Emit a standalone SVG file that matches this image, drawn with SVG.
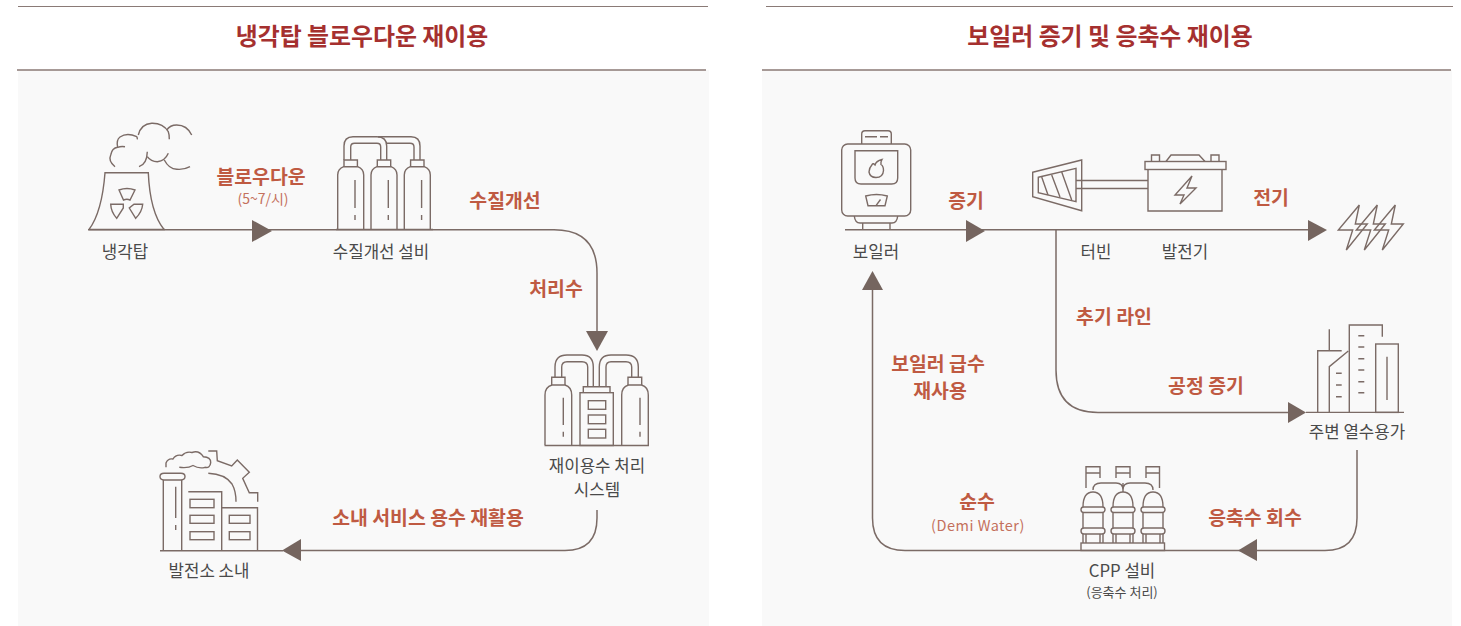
<svg xmlns="http://www.w3.org/2000/svg" width="1461" height="626" viewBox="0 0 1461 626">
<style>
text{font-family:"Noto Sans CJK KR","Noto Sans",sans-serif}
.t{font-size:23.900px;font-weight:700;fill:#a5302f;text-anchor:middle}
.l{font-size:19.400px;font-weight:700;fill:#bf5a42;text-anchor:middle}
.s{font-size:14px;fill:#c4705c;text-anchor:middle}
.n{font-size:16.800px;fill:#4a4a4a;text-anchor:middle}
.n2{font-size:13px;fill:#4a4a4a;text-anchor:middle}
.i{fill:none;stroke:#7b6b66;stroke-width:1.4}
.c{fill:none;stroke:#7b6b66;stroke-width:1.5}
.h{fill:none;stroke:#8a7a76;stroke-width:1}
.hb{fill:none;stroke:#8a7a76;stroke-width:1.3}
.a{fill:#75655f}
</style>
<defs>
<g id="tank"><path d="M0 69.500V15Q0 9 6 6.700H20Q26 9 26 15V69.500"/><path d="M6.300 6.700V0H19.700V6.700"/><path d="M17.300 20V48M17.300 55V60"/></g>
<g id="col"><path d="M-10 -6Q-10 -21 0 -21Q10 -21 10 -6"/><rect x="-12" y="-6" width="24" height="5.500" rx="2.700"/><rect x="-12" y="15" width="24" height="6" rx="3"/><path d="M-10 -0.500V15M10 -0.500V15M-10 21V30M10 21V30M-7 21V30M7 21V30"/></g>
<g id="bolt"><path d="M21 0L0 25H14.400L8 45L29 19H17Z"/></g>
</defs>
<rect x="18" y="70" width="691" height="556" fill="#f9f9f9"/>
<rect x="762" y="70" width="690" height="556" fill="#f9f9f9"/>
<path class="h" d="M18 6.500H708M766 6.500H1453"/>
<path class="hb" d="M17 70H706M762 70H1451"/>
<text class="t" x="362" y="45">냉각탑 블로우다운 재이용</text>
<text class="t" x="1110" y="45">보일러 증기 및 응축수 재이용</text>

<g id="connectors">
<path class="c" d="M88 229.800H554Q597 229.800 597 273V335"/>
<path class="c" d="M597 510V518Q597 550.500 565 550.500H296"/>
<path class="c" d="M845 229.800H1312"/>
<path class="c" d="M1056 230V370Q1056 412.500 1098 412.500H1292"/>
<path class="c" d="M1357 450V518Q1357 550.500 1325 550.500H905Q872.500 550.500 872.500 518V285"/>
<path class="a" d="M252 220L272 231L252 242Z"/>
<path class="a" d="M586 331H608L597 351Z"/>
<path class="a" d="M301 539V561L282 550.500Z"/>
<path class="a" d="M966 220L985 231L966 242Z"/>
<path class="a" d="M1308 220L1327 230L1308 241Z"/>
<path class="a" d="M1288 402L1306 412.500L1288 423Z"/>
<path class="a" d="M1257 539V561L1238 550.500Z"/>
<path class="a" d="M862 290H883L872.500 271Z"/>
</g>

<g id="n-tower" class="i">
<path d="M89 229.500Q102 212 105 172.700H148.300Q150 212 164 229.500"/>
<path d="M89 229.500H165"/>
<path d="M119 190Q127 187 135 190L130 200Q127 198.500 123.500 200Z"/>
<path d="M110.700 204.300H123.300L123.300 208L116.700 218.300Q111 212 110.700 204.300Z"/>
<path d="M142.700 204.300H134L129.300 208L135.700 218.300Q142 212 142.700 204.300Z"/>
<path d="M115 166.700Q108 161 110.700 155Q112 148 117.700 147.300Q121 146 125 146.700"/>
<path d="M117.700 147.300Q116 140 120 137Q127 132 136.700 136.700Q137.500 138 137.300 139.300"/>
<path d="M138.300 135Q141 124 151.700 123.300Q163 123 168.300 131.700Q169.500 135 169.300 139.300"/>
<path d="M166.700 130Q170 125 176.700 125Q187 125 191.700 135"/>
<path d="M139 166.700Q147 164 147.300 151.700"/>
<path d="M147.300 156.700Q151 161.700 157.300 161.700Q165 161 168.300 153.300"/>
<path d="M164.300 160Q169 169 176.700 169.300Q184 170 190 166.700"/>
</g>
<text class="n" x="125" y="258">냉각탑</text>

<g id="n-softener" class="i">
<path d="M336 229.500H433"/>
<use href="#tank" x="337.700" y="160"/>
<use href="#tank" x="371" y="160"/>
<use href="#tank" x="404.300" y="160"/>
<path d="M344 160V146Q344 136.700 353 136.700H377Q386.700 136.700 386.700 146V160"/>
<path d="M350.700 160V147Q350.700 143.300 354.500 143.300H377Q380.700 143.300 380.700 147V160"/>
<path d="M378 136.700H411Q420 136.700 420 146V160"/>
<path d="M386.700 143.300H410Q414 143.300 414 147V160"/>
</g>
<text class="n" x="381" y="258">수질개선 설비</text>

<g id="n-reuse" class="i">
<path d="M544.500 445.500H649"/>
<path d="M545 445V395Q545 387 552 385H565Q571.700 387 571.700 395V445"/>
<path d="M621.700 445V395Q621.700 387 628.500 385H641.500Q648.300 387 648.300 395V445"/>
<path d="M551.700 385V377.300H565V385M628 385V377.300H641.700V385"/>
<path d="M563.300 397.700V425M563.300 431.700V436.700M640 397.700V425M640 431.700V436.700"/>
<rect x="580" y="392.700" width="33.300" height="52.800"/>
<path d="M583.300 392.700V386.700H610V392.700"/>
<rect x="588.300" y="400.700" width="17.400" height="8.600"/><rect x="588.300" y="415" width="17.400" height="8.700"/><rect x="588.300" y="429.300" width="17.400" height="8.700"/>
<path d="M555 377V367Q555 355 567 355H582Q593.300 355 593.300 367V386.700"/>
<path d="M561.700 377V367Q561.700 361.700 567 361.700H582Q587.700 361.700 587.700 367V386.700"/>
<path d="M599.300 386.700V367Q599.300 355 611 355H626Q638.300 355 638.300 367V377"/>
<path d="M606 386.700V367Q606 361.700 611 361.700H626Q631.700 361.700 631.700 367V377"/>
</g>
<text class="n" x="597" y="472">재이용수 처리</text>
<text class="n" x="597" y="496">시스템</text>

<g id="n-plant" class="i">
<path d="M160 550.700H283"/>
<path d="M163.300 550V480M181.700 550V480"/>
<path d="M164 473.300H181Q185 473.300 185 476.600Q185 480 181 480H164Q160 480 160 476.600Q160 473.300 164 473.300Z"/>
<path d="M175.700 486.700V518M175.700 525V530"/>
<path d="M188.300 491.700H221.700V550M221.700 507.700H257.500V550"/>
<rect x="190" y="499.300" width="24" height="8.400"/><rect x="190" y="515.300" width="24" height="8"/><rect x="190" y="531.700" width="24" height="8"/>
<rect x="229.300" y="515.300" width="20.700" height="8"/><rect x="229.300" y="531.700" width="20.700" height="8"/>
<path d="M208.300 473.300Q225 474 232 484Q236 491 236 501.700"/>
<path d="M208.300 451H216.700L217.300 460.700L231.700 466L237.300 460L249.300 472.300L242.700 478.300L249.300 492.700H257.700V501.700"/>
<path d="M166 467.300V463Q168 458 173 459Q176 454 182 455.500Q186 451 192 452.500Q199 450 203.300 456.700Q211 457 210.700 462.700Q210 468.500 205 467.300Q199 469 193 465.500Q188 468.500 179.300 467.300"/>
</g>
<text class="n" x="209" y="577">발전소 소내</text>

<text class="l" x="261" y="184">블로우다운</text>
<text class="s" x="263" y="204">(5~7/시)</text>
<text class="l" x="505" y="208">수질개선</text>
<text class="l" x="556" y="296">처리수</text>
<text class="l" x="428" y="525">소내 서비스 용수 재활용</text>

<g id="n-boiler" class="i">
<path d="M861.700 144V134Q861.700 130.700 865 130.700H888Q891.300 130.700 891.300 134V144"/>
<path d="M865 136.700H877M880 136.700H888"/>
<rect x="841.700" y="144" width="69" height="72" rx="6"/>
<path d="M855 150.700H897.700V178Q897.700 184 891.700 184H861Q855 184 855 178Z"/>
<path d="M882 159.500Q876 161 875 165Q873 163 872.500 164Q869 168 869 172Q870 177.500 876 177.500Q883 177.500 883.500 170.500Q883.500 166 881 164.500Q880.500 162 882 159.500Z"/>
<path d="M865.700 196Q876.500 193 887.300 196L885 205.700H868Z"/>
<path d="M876 205.700L880.500 199.500"/>
<path d="M854.300 216Q855 223 860 223H892Q897 223 897.700 216"/>
<path d="M862.700 223V230M890 223V230"/>
</g>
<text class="n" x="876" y="258">보일러</text>

<g id="n-turbine" class="i">
<path d="M1032.700 172.300L1081.700 160V210.700L1032.700 196.700Z"/>
<path d="M1038.300 177.300L1076 168.300V201.700L1038.300 192.700Z"/>
<path d="M1041.700 177L1048 195M1051.700 175L1060 197M1061.700 172L1071.700 200"/>
<path d="M1076 180.500H1148M1076 188.500H1148"/>
</g>
<text class="n" x="1096" y="258">터빈</text>

<g id="n-generator" class="i">
<path d="M1148 169V211H1222V169"/>
<rect x="1145" y="161.500" width="81" height="8"/>
<path d="M1151.500 161.500V155H1159.500V161.500M1211 161.500V155H1219V161.500"/>
<path d="M1166 161.500L1171 155H1199L1205 161.500"/>
<path d="M1192 176L1175 195H1184L1180 204L1196 188H1187Z"/>
</g>
<text class="n" x="1185" y="258">발전기</text>

<g id="n-power" class="i">
<use href="#bolt" x="1338.300" y="205"/>
<use href="#bolt" x="1356.300" y="205"/>
<use href="#bolt" x="1374.300" y="205"/>
</g>

<g id="n-city" class="i">
<path d="M1306 412.400H1404"/>
<path d="M1317.700 412V350.700H1341.700M1329.300 350.700V329.300"/>
<path d="M1329.300 412V366.700L1348.300 351"/>
<path d="M1349.300 412V325H1382.300V336.700"/>
<rect x="1375.700" y="344" width="22.600" height="68.400"/>
<path d="M1387 356.700V400"/>
<path d="M1336 373.300H1341.700M1336 385H1341.700M1336 396.700H1341.700M1358.300 335.700H1364.300M1358.300 347H1364.300M1358.300 358.700H1364.300M1358.300 370H1364.300M1358.300 381.700H1364.300M1358.300 392.700H1364.300"/>
</g>
<text class="n" x="1357" y="438">주변 열수용가</text>

<g id="n-cpp" class="i">
<rect x="1081" y="543" width="83.500" height="7.500"/>
<use href="#col" x="1093" y="513"/>
<use href="#col" x="1123" y="513"/>
<use href="#col" x="1153" y="513"/>
<path d="M1093 490Q1093 483 1101 483H1116Q1123 483 1123 490M1123 490Q1123 483 1130 483H1145Q1153 483 1153 490M1123 483V492"/>
<path d="M1086 488V466.700H1100V478M1086 473H1100"/>
<path d="M1116 478V466.700H1130V478M1116 473H1130"/>
<path d="M1159.500 488V466.700H1146V478M1146 473H1159.500"/>
</g>
<text class="n" x="1122" y="577">CPP 설비</text>
<text class="n2" x="1122" y="597">(응축수 처리)</text>

<text class="l" x="966" y="208">증기</text>
<text class="l" x="1271" y="205">전기</text>
<text class="l" x="1114" y="324">추기 라인</text>
<text class="l" x="1206" y="393">공정 증기</text>
<text class="l" x="938" y="371">보일러 급수</text>
<text class="l" x="940" y="398">재사용</text>
<text class="l" x="1255" y="525">응축수 회수</text>
<text class="l" x="977" y="509">순수</text>
<text class="s" x="978" y="531" style="letter-spacing:.5px;font-size:14.500px">(Demi Water)</text>
</svg>
